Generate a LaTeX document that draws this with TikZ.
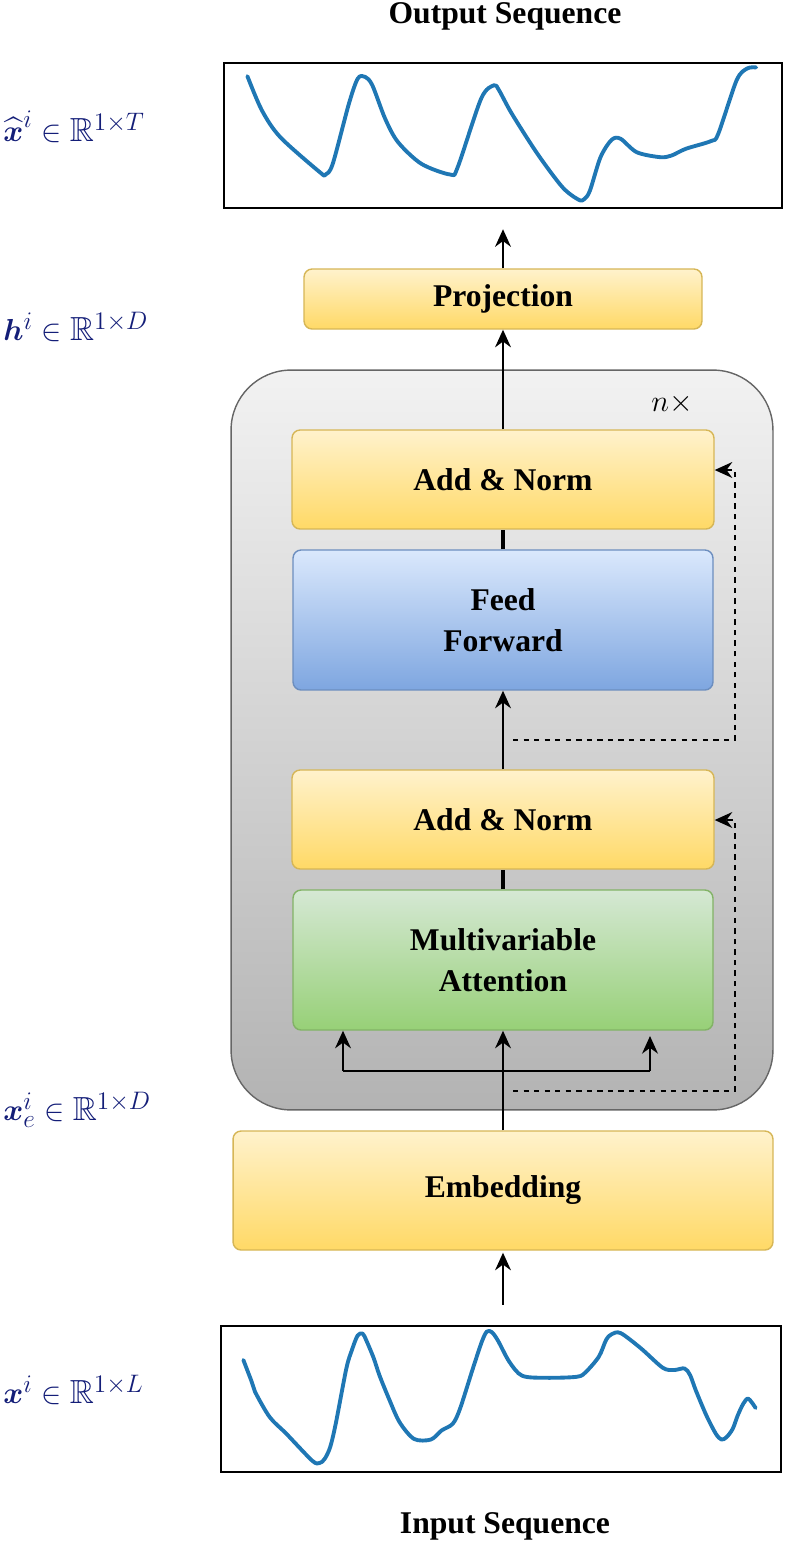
\documentclass[tikz,border=0pt]{standalone}
\usepackage{amsmath, amssymb}
\usepackage{fontspec}
\setmainfont{Liberation Serif}
\usepackage{tikz}
\usetikzlibrary{arrows.meta, calc}

\definecolor{ylwtop}{HTML}{FFF2CC}
\definecolor{ylwbot}{HTML}{FFD966}
\definecolor{ylwline}{HTML}{D6B656}
\definecolor{blutop}{HTML}{DAE8FC}
\definecolor{blubot}{HTML}{7EA6E0}
\definecolor{bluline}{HTML}{6C8EBF}
\definecolor{grntop}{HTML}{D5E8D4}
\definecolor{grnbot}{HTML}{97D077}
\definecolor{grnline}{HTML}{82B366}
\definecolor{gratop}{HTML}{F2F2F2}
\definecolor{grabot}{HTML}{B3B3B3}
\definecolor{graline}{HTML}{666666}
\definecolor{series}{HTML}{1F77B4}
\definecolor{dimblue}{HTML}{141E78}

\tikzset{
  block/.style={rounded corners=0.16cm, line width=0.8pt, align=center,
    font=\fontsize{18}{23}\selectfont\bfseries, inner sep=0pt},
  ylwblock/.style={block, draw=ylwline, top color=ylwtop, bottom color=ylwbot},
  blublock/.style={block, draw=bluline, top color=blutop, bottom color=blubot},
  grnblock/.style={block, draw=grnline, top color=grntop, bottom color=grnbot},
  seqbox/.style={draw=black, line width=1.4pt, inner sep=0pt},
  arr/.style={-{Stealth[length=10pt, width=9pt]}, line width=1.3pt},
  link/.style={line width=1.3pt},
  joint/.style={line width=2.4pt},
  res/.style={-{Stealth[length=10pt, width=9pt]}, line width=1.2pt, dash pattern=on 3pt off 3pt},
  dimlabel/.style={anchor=west, text=dimblue, font=\fontsize{19}{23}\selectfont, inner sep=0pt},
  caption/.style={font=\fontsize{18}{22}\selectfont\bfseries}
}

\begin{document}
\begin{tikzpicture}[x=0.02cm, y=-0.02cm]
  \useasboundingbox (0,0) rectangle (806,1542);

  % Captions
  \node[caption] (outcap) at (505,16) {Output Sequence};
  \node[caption] (incap) at (505,1526) {Input Sequence};

  % Sequence boxes
  \node[seqbox, minimum width=11.16cm, minimum height=2.9cm] (out) at (503,135.5) {};
  \node[seqbox, minimum width=11.2cm, minimum height=2.92cm] (in) at (501,1399) {};

  % Output series
  \begin{scope}[shift={(out.north west)}, x=11.16cm, y=-2.9cm]
    \draw[series, line width=2.2pt, line cap=round, line join=round] plot[smooth, tension=0.5] coordinates {
      (0.044,0.099) (0.070,0.335) (0.103,0.520) (0.174,0.762) (0.184,0.778)
      (0.197,0.704) (0.226,0.289) (0.242,0.115) (0.255,0.104) (0.268,0.162)
      (0.291,0.393) (0.314,0.554) (0.356,0.704) (0.408,0.778) (0.421,0.727)
      (0.463,0.254) (0.486,0.162) (0.495,0.196) (0.518,0.358) (0.564,0.635)
      (0.609,0.866) (0.638,0.952) (0.648,0.947) (0.658,0.889) (0.677,0.658)
      (0.697,0.538) (0.713,0.531) (0.742,0.624) (0.784,0.658) (0.804,0.647)
      (0.830,0.600) (0.875,0.547) (0.888,0.497) (0.921,0.127) (0.940,0.046)
      (0.956,0.039)};
  \end{scope}

  % Input series
  \begin{scope}[shift={(in.north west)}, x=11.2cm, y=-2.92cm]
    \draw[series, line width=2.2pt, line cap=round, line join=round] plot[smooth, tension=0.5] coordinates {
      (0.042,0.241) (0.057,0.391) (0.063,0.460) (0.089,0.632) (0.119,0.747)
      (0.165,0.931) (0.178,0.947) (0.187,0.920) (0.197,0.839) (0.207,0.678)
      (0.226,0.299) (0.236,0.172) (0.246,0.074) (0.255,0.060) (0.262,0.110)
      (0.275,0.230) (0.285,0.345) (0.302,0.506) (0.321,0.667) (0.347,0.782)
      (0.377,0.786) (0.396,0.724) (0.416,0.678) (0.429,0.575) (0.452,0.299)
      (0.468,0.115) (0.477,0.046) (0.486,0.051) (0.497,0.110) (0.517,0.253)
      (0.540,0.349) (0.582,0.363) (0.638,0.356) (0.654,0.322) (0.677,0.218)
      (0.690,0.103) (0.700,0.064) (0.716,0.057) (0.752,0.161) (0.791,0.294)
      (0.811,0.310) (0.830,0.299) (0.840,0.345) (0.850,0.448) (0.869,0.621)
      (0.886,0.747) (0.896,0.786) (0.905,0.770) (0.916,0.713) (0.925,0.621)
      (0.935,0.540) (0.944,0.506) (0.957,0.570)};
  \end{scope}

  % Encoder stack
  \node[draw=graline, line width=0.8pt, rounded corners=1.2cm, top color=gratop, bottom color=grabot,
    minimum width=10.84cm, minimum height=14.8cm] (stack) at (502,740) {};
  \node[font=\fontsize{18}{22}\selectfont] (rep) at (672,404) {$n\times$};

  \node[ylwblock, minimum width=7.96cm, minimum height=1.2cm] (proj) at (503,299) {Projection};
  \node[ylwblock, minimum width=8.44cm, minimum height=1.98cm] (an2) at (503,479.5) {Add \& Norm};
  \node[blublock, minimum width=8.4cm, minimum height=2.8cm] (ff) at (503,620) {Feed\\Forward};
  \node[ylwblock, minimum width=8.44cm, minimum height=1.98cm] (an1) at (503,819.5) {Add \& Norm};
  \node[grnblock, minimum width=8.4cm, minimum height=2.8cm] (att) at (503,960) {Multivariable\\Attention};
  \node[ylwblock, minimum width=10.8cm, minimum height=2.38cm] (emb) at (503,1190.5) {Embedding};

  % Dimension labels
  \node[dimlabel] (lout) at (3,127) {$\widehat{\boldsymbol{x}}^{i} \in \mathbb{R}^{1\times T}$};
  \node[dimlabel] (lh) at (3,327) {$\boldsymbol{h}^{i} \in \mathbb{R}^{1\times D}$};
  \node[dimlabel] (lemb) at (3,1110) {$\boldsymbol{x}_{e}^{i} \in \mathbb{R}^{1\times D}$};
  \node[dimlabel] (lin) at (3,1390) {$\boldsymbol{x}^{i} \in \mathbb{R}^{1\times L}$};

  % Main flow
  \draw[arr, shorten <=20*0.02cm, shorten >=2*0.02cm] (emb.south |- in.north) -- (emb.south);
  \draw[arr] (emb.north) -- (att.south);
  \draw[joint] (att.north) -- (an1.south);
  \draw[arr] (an1.north) -- (ff.south);
  \draw[joint] (ff.north) -- (an2.south);
  \draw[arr] (an2.north) -- (proj.south);
  \draw[arr, shorten >=20*0.02cm] (proj.north) -- (out.south);

  % Query, key and value branches
  \coordinate (brl) at (343,1071);
  \coordinate (brr) at (650,1071);
  \draw[link] (brl) -- (brr);
  \draw[arr] (brl) -- (brl |- att.south);
  \draw[arr] (brr) -- ++(0,-35);

  % Residual connections
  \coordinate (res1) at (513,1091);
  \coordinate (turn1) at (735,820);
  \draw[res] (res1) -| (turn1) -- (turn1 -| an1.east);
  \coordinate (res2) at (513,740);
  \coordinate (turn2) at (735,470);
  \draw[res] (res2) -| (turn2) -- (turn2 -| an2.east);
\end{tikzpicture}
\end{document}
